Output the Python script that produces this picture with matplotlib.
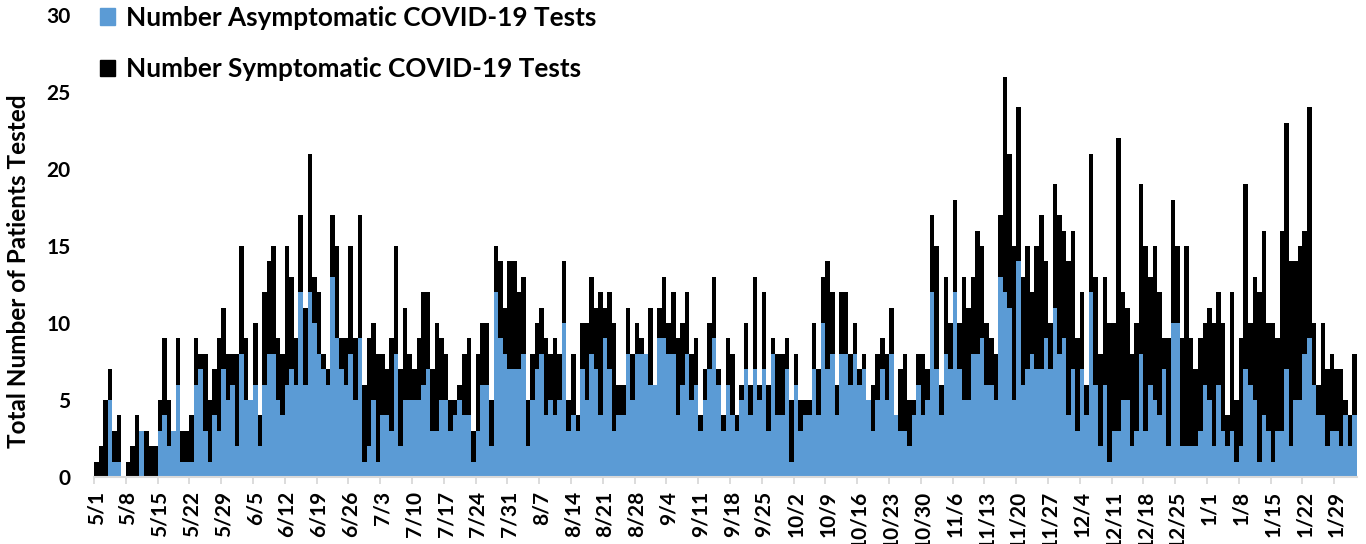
#used imports
import matplotlib
matplotlib.use('Agg')
from matplotlib import pyplot as plt
from matplotlib.patches import Patch
import numpy as np

#daily counts from 5/1 to 2/2, one line per week
asym = [0, 0, 0, 5, 1, 1, 0,
        0, 0, 0, 3, 0, 0, 0,
        3, 4, 2, 3, 6, 1, 1,
        1, 6, 7, 3, 1, 4, 3,
        7, 5, 6, 2, 8, 5, 5,
        6, 2, 6, 8, 8, 5, 4,
        6, 7, 6, 12, 6, 12, 10,
        8, 7, 6, 13, 9, 7, 6,
        8, 5, 9, 1, 2, 5, 1,
        4, 4, 3, 8, 2, 5, 5,
        5, 5, 6, 7, 3, 3, 5,
        5, 3, 4, 5, 4, 4, 1,
        3, 6, 6, 2, 12, 9, 8,
        7, 7, 7, 8, 2, 5, 7,
        8, 4, 5, 4, 5, 10, 3,
        4, 3, 7, 5, 8, 7, 4,
        9, 7, 3, 4, 4, 8, 5,
        8, 8, 8, 6, 6, 9, 9,
        8, 8, 4, 6, 8, 5, 6,
        3, 5, 7, 9, 6, 3, 6,
        4, 3, 5, 7, 4, 7, 5,
        7, 3, 8, 4, 4, 7, 1,
        6, 3, 4, 4, 7, 4, 10,
        7, 8, 4, 8, 8, 6, 8,
        6, 7, 5, 3, 5, 7, 5,
        8, 4, 3, 3, 2, 4, 6,
        4, 5, 12, 7, 4, 8, 7,
        12, 7, 5, 5, 8, 8, 9,
        6, 6, 5, 13, 12, 11, 5,
        14, 6, 7, 8, 7, 7, 9,
        7, 11, 8, 9, 4, 7, 3,
        7, 4, 12, 6, 2, 6, 1,
        3, 3, 5, 5, 2, 3, 8,
        3, 6, 5, 4, 7, 2, 10,
        10, 2, 2, 2, 2, 3, 6,
        5, 2, 6, 3, 2, 3, 1,
        2, 7, 6, 5, 1, 4, 3,
        1, 3, 3, 7, 2, 5, 5,
        8, 9, 6, 4, 4, 2, 3,
        3, 2, 4, 2, 4]

sym = [1, 2, 5, 2, 2, 3, 0,
       1, 2, 4, 0, 3, 2, 2,
       2, 5, 3, 0, 3, 2, 2,
       3, 3, 1, 5, 4, 3, 6,
       4, 3, 2, 6, 7, 4, 0,
       4, 2, 6, 6, 7, 4, 4,
       9, 6, 3, 5, 5, 9, 3,
       4, 1, 1, 4, 6, 2, 3,
       7, 4, 8, 5, 7, 5, 7,
       4, 3, 6, 7, 5, 6, 3,
       2, 4, 6, 5, 4, 7, 4,
       3, 2, 1, 1, 4, 5, 2,
       5, 4, 4, 3, 3, 5, 3,
       7, 7, 5, 5, 3, 3, 3,
       3, 5, 3, 5, 3, 4, 2,
       4, 1, 3, 5, 5, 4, 8,
       2, 5, 7, 2, 2, 3, 3,
       2, 1, 0, 5, 0, 2, 4,
       2, 4, 5, 4, 4, 3, 3,
       1, 2, 3, 4, 1, 1, 3,
       4, 1, 1, 3, 2, 6, 1,
       5, 3, 1, 4, 4, 2, 4,
       2, 2, 1, 1, 3, 3, 3,
       7, 4, 2, 4, 4, 2, 2,
       1, 1, 0, 3, 3, 2, 3,
       3, 0, 4, 5, 3, 1, 2,
       4, 2, 5, 8, 2, 5, 3,
       6, 3, 8, 6, 5, 8, 6,
       4, 3, 3, 4, 14, 10, 10,
       10, 7, 8, 4, 8, 10, 5,
       3, 8, 9, 7, 10, 9, 6,
       5, 2, 9, 7, 6, 7, 9,
       7, 19, 7, 6, 6, 7, 11,
       12, 7, 10, 8, 2, 7, 8,
       5, 7, 13, 7, 5, 6, 4,
       6, 8, 6, 7, 2, 9, 4,
       7, 12, 4, 8, 11, 12, 7,
       9, 6, 13, 16, 12, 9, 10,
       8, 15, 4, 2, 6, 5, 5,
       4, 5, 1, 2, 4]

tick_labels = ['5/1', '5/8', '5/15', '5/22', '5/29', '6/5', '6/12', '6/19', '6/26',
               '7/3', '7/10', '7/17', '7/24', '7/31', '8/7', '8/14', '8/21', '8/28',
               '9/4', '9/11', '9/18', '9/25', '10/2', '10/9', '10/16', '10/23', '10/30',
               '11/6', '11/13', '11/20', '11/27', '12/4', '12/11', '12/18', '12/25',
               '1/1', '1/8', '1/15', '1/22', '1/29']

plt.rcParams['font.family'] = ['Lato', 'DejaVu Sans']
plt.rcParams['font.weight'] = 'bold'

blue = '#5B9BD5'
grey = '#D9D9D9'
days = np.arange(len(asym))

fig = plt.figure(figsize=(13.66, 5.44), dpi=100)
ax = fig.add_axes([94/1366, 67/544, 1263/1366, 462/544])

#stacked daily bars, no gap between days
ax.bar(days, asym, width=1.0, color=blue, linewidth=0)
ax.bar(days, sym, bottom=asym, width=1.0, color='black', linewidth=0)

ax.set_xlim(-0.5, len(days) - 0.5)
ax.set_ylim(0, 30)
ax.set_yticks(range(0, 31, 5))
ax.tick_params(axis='y', length=0, pad=17, labelsize=15)

#tick marks sit between days, labels sit on the day
label_pos = np.arange(len(tick_labels)) * 7
ax.set_xticks(label_pos - 0.5)
ax.set_xticklabels([])
ax.set_xticks(label_pos, minor=True)
ax.set_xticklabels(tick_labels, minor=True, rotation=90, fontsize=15)
ax.tick_params(axis='x', which='major', length=5, width=1.3, color=grey)
ax.tick_params(axis='x', which='minor', length=0, pad=10)

for side in ['top', 'right', 'left']:
    ax.spines[side].set_visible(False)
ax.spines['bottom'].set_color(grey)
ax.spines['bottom'].set_linewidth(1.5)

handles = [Patch(color=blue, label='Number Asymptomatic COVID-19 Tests'),
           Patch(color='black', label='Number Symptomatic COVID-19 Tests')]
ax.legend(handles=handles, loc='upper left', bbox_to_anchor=(0.005, 1.02),
          frameon=False, fontsize=18.8, handlelength=0.58, handleheight=0.58,
          handletextpad=0.4, labelspacing=1.05, borderpad=0, borderaxespad=0)

fig.text(19/1366, 1 - 271/544, 'Total Number of Patients Tested', rotation=90,
         ha='center', va='center', fontsize=17.5, fontweight='bold')

fig.savefig('out.png', dpi=100)
